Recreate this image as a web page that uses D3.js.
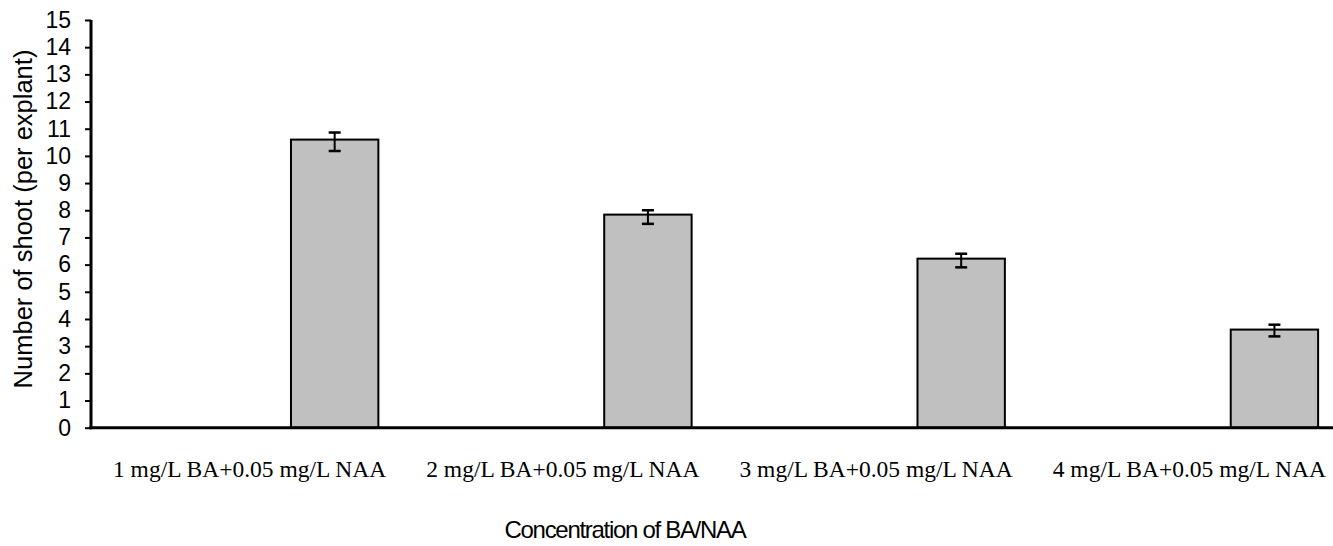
<!DOCTYPE html>
<html lang="en">
<head>
  <meta charset="UTF-8">
  <title>Number of shoot per explant</title>
  <script src="https://d3js.org/d3.v7.min.js"></script>
  <style>
    body { margin: 0; background: #fff; }
    .tick text { font-family: "Liberation Sans", Arial, sans-serif; font-size: 23px; fill: #000; }
    .xlab { font-family: "Liberation Serif", "Times New Roman", serif; font-size: 23.5px; fill: #000; }
    .title { font-family: "Liberation Sans", Arial, sans-serif; fill: #000; }
  </style>
</head>
<body>
  <svg width="1333" height="546"></svg>
  <script>
    const categories = [
      "1 mg/L BA+0.05 mg/L NAA",
      "2 mg/L BA+0.05 mg/L NAA",
      "3 mg/L BA+0.05 mg/L NAA",
      "4 mg/L BA+0.05 mg/L NAA"
    ];
    const shoots = [10.6, 7.84, 6.22, 3.61];
    const errHigh = [10.86, 8.0, 6.4, 3.79];
    const errLow = [10.18, 7.5, 5.9, 3.36];
    const yTicks = d3.range(0, 16);

    const svg = d3.select("svg");
    const axisX = 91, plotTop = 20, plotBottom = 427.7;

    const x = d3.scaleBand().domain(categories).range([93, 1346]);
    const y = d3.scaleLinear().domain([0, 15]).range([plotBottom, plotTop]);

    const bw = x.bandwidth();
    const barW = bw * 0.279;
    const barLeft = d => x(d) + bw * 0.632;

    // bars
    svg.append("g")
      .selectAll("rect")
      .data(categories)
      .join("rect")
      .attr("x", d => barLeft(d))
      .attr("y", (d, i) => y(shoots[i]))
      .attr("width", barW)
      .attr("height", (d, i) => y(0) - y(shoots[i]))
      .attr("fill", "#c0c0c0")
      .attr("stroke", "#000")
      .attr("stroke-width", 2);

    // error bars
    const err = svg.append("g")
      .selectAll("g")
      .data(categories)
      .join("g")
      .attr("stroke", "#000")
      .attr("stroke-width", 2);
    err.append("line")
      .attr("x1", d => barLeft(d) + barW / 2)
      .attr("x2", d => barLeft(d) + barW / 2)
      .attr("y1", (d, i) => y(errHigh[i]))
      .attr("y2", (d, i) => y(errLow[i]));
    err.selectAll("line.cap")
      .data((d, i) => [errHigh[i], errLow[i]].map(v => ({ c: d, v })))
      .join("line")
      .attr("class", "cap")
      .attr("x1", d => barLeft(d.c) + barW / 2 - 6)
      .attr("x2", d => barLeft(d.c) + barW / 2 + 6)
      .attr("y1", d => y(d.v))
      .attr("y2", d => y(d.v))
      .attr("stroke-width", 2.5);

    // y axis
    const yAxis = svg.append("g")
      .attr("transform", `translate(${axisX},0)`)
      .call(d3.axisLeft(y).tickValues(yTicks).tickSize(6).tickPadding(14));
    yAxis.select(".domain").attr("d", `M0,${plotTop}V${plotBottom + 1.5}`).attr("stroke-width", 3);
    yAxis.selectAll(".tick line").attr("stroke-width", 2);

    // x axis
    svg.append("line")
      .attr("x1", axisX - 1.5).attr("x2", 1333)
      .attr("y1", plotBottom).attr("y2", plotBottom)
      .attr("stroke", "#000").attr("stroke-width", 3);

    svg.append("g")
      .selectAll("text")
      .data(categories)
      .join("text")
      .attr("class", "xlab")
      .attr("x", d => x(d) + bw / 2)
      .attr("y", 477)
      .attr("text-anchor", "middle")
      .text(d => d);

    svg.append("text")
      .attr("class", "title")
      .attr("x", 625)
      .attr("y", 538)
      .attr("text-anchor", "middle")
      .attr("font-size", 24)
      .attr("letter-spacing", -1.3)
      .text("Concentration of BA/NAA");

    svg.append("text")
      .attr("class", "title")
      .attr("transform", "translate(31.5,219) rotate(-90)")
      .attr("text-anchor", "middle")
      .attr("font-size", 25.5)
      .text("Number of shoot (per explant)");
  </script>
</body>
</html>
